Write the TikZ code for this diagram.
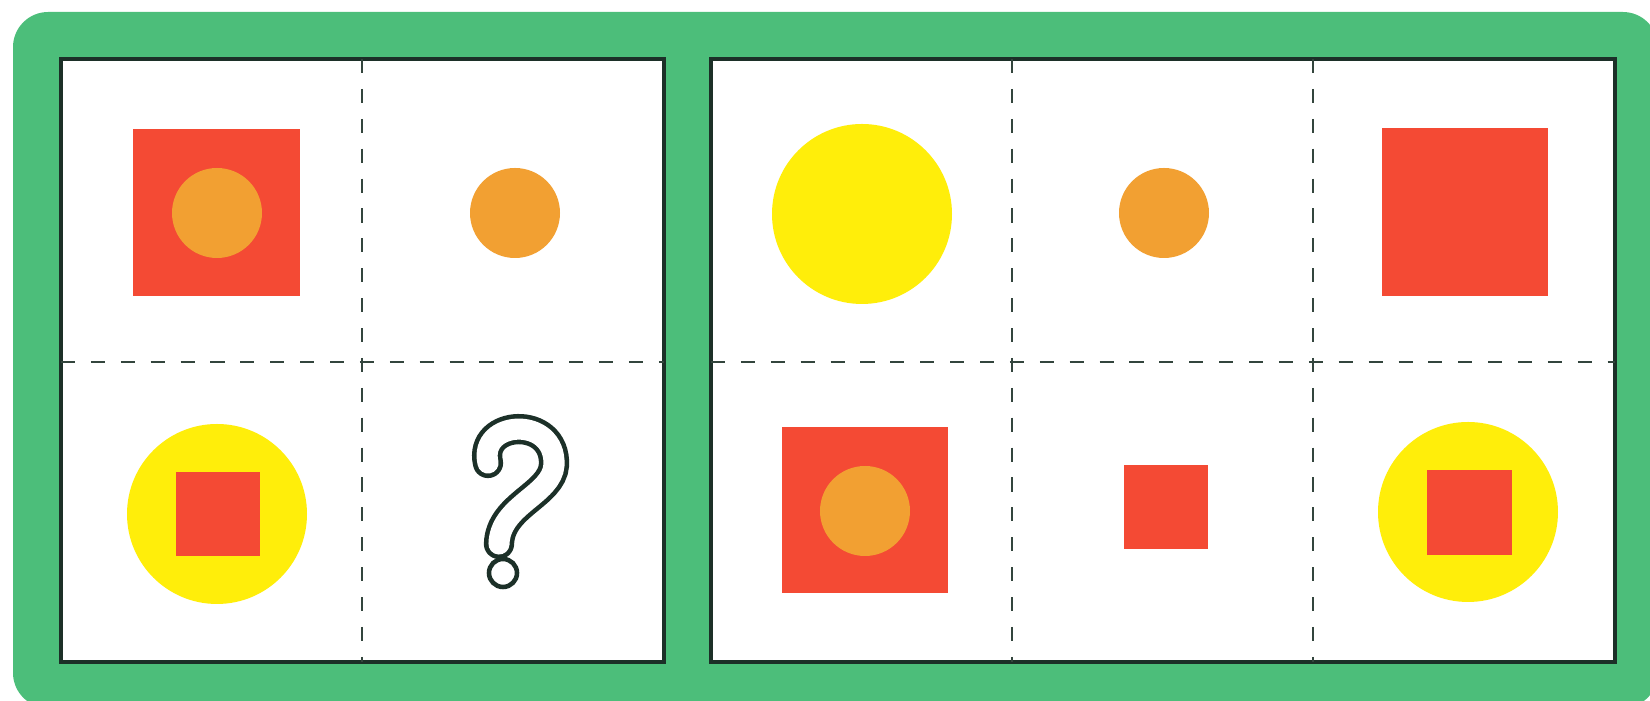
\documentclass[tikz,border=0pt]{standalone}
\usepackage{tikz}
\definecolor{bordgreen}{RGB}{76,190,122}
\definecolor{tilered}{RGB}{244,74,52}
\definecolor{tileorange}{RGB}{242,160,50}
\definecolor{tileyellow}{RGB}{255,238,10}
\definecolor{framedark}{RGB}{28,48,40}

\begin{document}
\begin{tikzpicture}[x=0.01cm, y=-0.01cm,
    panel/.style={draw=framedark, line width=1.4pt, fill=white},
    cut/.style={draw=framedark!90, line width=0.7pt, dash pattern=on 4pt off 4.5pt},
    sq/.style={fill=tilered},
    dot/.style={fill=tileorange},
    ball/.style={fill=tileyellow}]
    \useasboundingbox (0,0) rectangle (1650,701);
    \clip (0,0) rectangle (1650,701);
    % 绿色底板
    \fill[bordgreen, rounded corners=10pt] (13,12) rectangle (1658,708);
    % 左框
    \draw[panel] (61,59) rectangle (664,662);
    \draw[cut] (362,59) -- (362,662);
    \draw[cut] (61,362) -- (664,362);
    % 右框
    \draw[panel] (711,59) rectangle (1615,662);
    \draw[cut] (1012,59) -- (1012,662);
    \draw[cut] (1313,59) -- (1313,662);
    \draw[cut] (711,362) -- (1615,362);
    % 左框图形
    \fill[sq] (133,129) rectangle (300,296);
    \fill[dot] (217,213) circle (45);
    \fill[dot] (515,213) circle (45);
    \fill[ball] (217,514) circle (90);
    \fill[sq] (176,472) rectangle (260,556);
    % 问号
    \draw[line width=8.6pt, line cap=round, framedark]
        (488,463) .. controls (478,420) and (556,415) .. (554,465)
        .. controls (552,495) and (500,505) .. (499,544);
    \draw[line width=6pt, line cap=round, white]
        (488,463) .. controls (478,420) and (556,415) .. (554,465)
        .. controls (552,495) and (500,505) .. (499,544);
    \draw[line width=1.3pt, framedark, fill=white] (503,573) circle (14);
    % 右框图形
    \fill[ball] (862,214) circle (90);
    \fill[dot] (1164,213) circle (45);
    \fill[sq] (1382,128) rectangle (1548,296);
    \fill[sq] (782,427) rectangle (948,593);
    \fill[dot] (865,511) circle (45);
    \fill[sq] (1124,465) rectangle (1208,549);
    \fill[ball] (1468,512) circle (90);
    \fill[sq] (1427,470) rectangle (1512,555);
\end{tikzpicture}
\end{document}
